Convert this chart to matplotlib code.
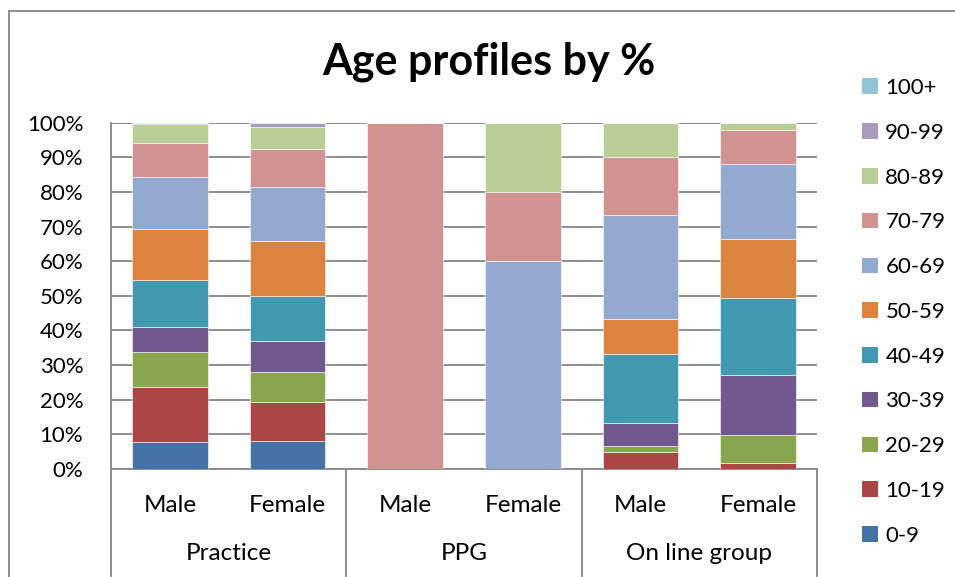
import matplotlib.pyplot as plt
from matplotlib.lines import Line2D
from matplotlib.patches import Patch

plt.rcParams['font.family'] = ['Lato', 'DejaVu Sans']

# x categories (sub label, group)
sub_labels = ["Male", "Female", "Male", "Female", "Male", "Female"]
groups = ["Practice", "PPG", "On line group"]

age_bands = ["0-9", "10-19", "20-29", "30-39", "40-49", "50-59",
             "60-69", "70-79", "80-89", "90-99", "100+"]
colors = ["#4572A7", "#AA4643", "#89A54E", "#71588F", "#4198AF", "#DB843D",
          "#93A9CF", "#D19392", "#B9CD96", "#A99BBD", "#93C4D6"]

# percentage per age band, one value per column (Practice M/F, PPG M/F, Online M/F)
age_0_9 = [7.8, 8.1, 0, 0, 0, 0]
age_10_19 = [15.9, 11.2, 0, 0, 4.8, 1.7]
age_20_29 = [10.1, 8.7, 0, 0, 1.7, 8.2]
age_30_39 = [7.2, 8.9, 0, 0, 6.8, 17.2]
age_40_49 = [13.7, 13.2, 0, 0, 19.9, 22.4]
age_50_59 = [14.6, 15.7, 0, 0, 10.1, 17.0]
age_60_69 = [14.9, 15.5, 0, 60, 30.0, 21.5]
age_70_79 = [9.8, 11.1, 100, 20, 16.8, 10.0]
age_80_89 = [5.5, 6.35, 0, 20, 9.9, 2.0]
age_90_99 = [0.5, 1.25, 0, 0, 0, 0]
age_100 = [0, 0, 0, 0, 0, 0]

series = [age_0_9, age_10_19, age_20_29, age_30_39, age_40_49, age_50_59,
          age_60_69, age_70_79, age_80_89, age_90_99, age_100]

fig = plt.figure(figsize=(9.55, 5.77), dpi=100)
ax = fig.add_axes([111 / 955, 1 - 469 / 577, 706 / 955, 346.3 / 577])

x = list(range(len(sub_labels)))
bottom = [0.0] * len(x)
for vals, col in zip(series, colors):
    ax.bar(x, vals, 0.645, bottom=bottom, color=col, edgecolor="#ffffff",
           linewidth=0.4, zorder=3)
    bottom = [b + v for b, v in zip(bottom, vals)]

ax.set_xlim(-0.5, 5.5)
ax.set_ylim(0, 100)
ax.set_yticks(range(0, 101, 10))
ax.set_yticklabels([f"{t}%" for t in range(0, 101, 10)], fontsize=16)
ax.yaxis.grid(True, color="#868686", linewidth=1.3, zorder=0)
ax.tick_params(axis="y", length=0, pad=20)
ax.tick_params(axis="x", length=0, pad=0)
ax.set_xticks(x)
ax.set_xticklabels([])

for s in ["top", "right"]:
    ax.spines[s].set_visible(False)
ax.spines["left"].set_color("#868686")
ax.spines["left"].set_linewidth(1.3)
ax.spines["bottom"].set_color("#868686")
ax.spines["bottom"].set_linewidth(1.3)

trans = ax.get_xaxis_transform()
for xi, lab in zip(x, sub_labels):
    ax.text(xi, -0.104, lab, transform=trans, ha="center", va="center", fontsize=17.5)
for gi, g in enumerate(groups):
    ax.text(gi * 2 + 0.5, -0.243, g, transform=trans, ha="center", va="center",
            fontsize=17.5)
for d in [-0.5, 1.5, 3.5, 5.5]:
    ax.add_line(Line2D([d, d], [0, -0.31], transform=trans, color="#868686",
                       linewidth=1.3, clip_on=False))

fig.text(489 / 955, 1 - 62 / 577, "Age profiles by %", ha="center", va="center",
         fontsize=31, fontweight="bold")

handles = [Patch(facecolor=c, edgecolor="none") for c in colors]
leg = fig.legend(handles[::-1], age_bands[::-1], loc="upper left",
                 bbox_to_anchor=(842 / 955, 1 - 58 / 577), frameon=False,
                 fontsize=16, handlelength=0.7, handleheight=0.7,
                 handletextpad=0.35, labelspacing=1.115)

# outer chart border
fig.add_artist(Line2D([9 / 955, 1], [1 - 10.7 / 577] * 2, transform=fig.transFigure,
                      color="#868686", linewidth=1.3))
fig.add_artist(Line2D([9 / 955] * 2, [0, 1 - 10.7 / 577], transform=fig.transFigure,
                      color="#868686", linewidth=1.3))

fig.savefig("out.png", dpi=100)
